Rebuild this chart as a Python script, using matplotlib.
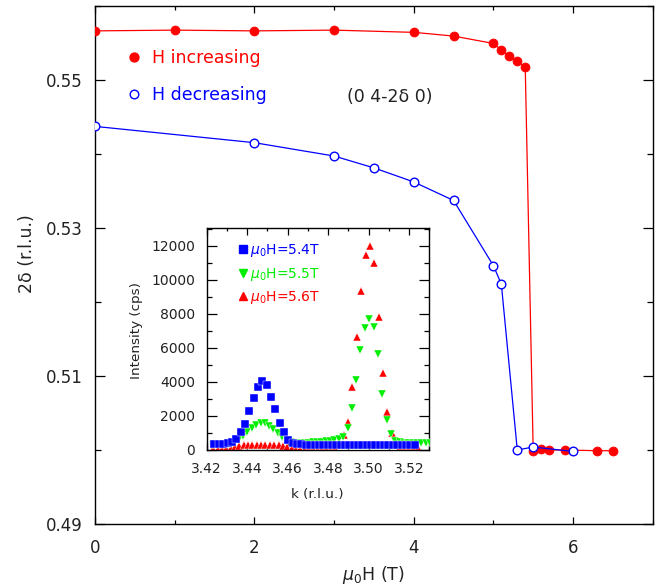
import matplotlib
matplotlib.use("Agg")
import matplotlib.pyplot as plt
from matplotlib.ticker import MultipleLocator
from matplotlib.lines import Line2D

plt.rcParams['font.family'] = ['DejaVu Sans']
plt.rcParams['mathtext.fontset'] = 'dejavusans'

TXT = '#222222'

# ---- main panel: incommensurability 2δ versus applied field ----
h_inc = [0, 1, 2, 3, 4, 4.5, 5.0, 5.1, 5.2, 5.3, 5.4, 5.5, 5.6, 5.7, 5.9, 6.3, 6.5]
d_inc = [0.5566, 0.5567, 0.5566, 0.5567, 0.5564, 0.5559, 0.5549, 0.5540, 0.5532,
         0.5525, 0.5517, 0.4998, 0.5001, 0.5000, 0.5000, 0.4999, 0.4999]

h_dec = [0, 2, 3, 3.5, 4, 4.5, 5.0, 5.1, 5.3, 5.5, 6.0]
d_dec = [0.5437, 0.5415, 0.5397, 0.5381, 0.5362, 0.5337, 0.5249, 0.5224,
         0.5000, 0.5004, 0.4998]

# ---- inset: k scans at three fields ----
k_54 = [3.4238, 3.4260, 3.4281, 3.4303, 3.4324, 3.4346, 3.4367, 3.4389, 3.4410,
        3.4432, 3.4453, 3.4475, 3.4496, 3.4518, 3.4539, 3.4561, 3.4582, 3.4604,
        3.4625, 3.4647, 3.4668, 3.4690, 3.4711, 3.4733, 3.4754, 3.4776, 3.4797,
        3.4819, 3.4840, 3.4862, 3.4883, 3.4905, 3.4926, 3.4948, 3.4969, 3.4991,
        3.5012, 3.5034, 3.5055, 3.5077, 3.5098, 3.5120, 3.5141, 3.5163, 3.5184,
        3.5206, 3.5227]
i_54 = [350, 360, 370, 390, 450, 640, 1050, 1530, 2270,
        3050, 3720, 4070, 3800, 3130, 2430, 1600, 1040, 590,
        430, 360, 330, 320, 310, 300, 310, 300, 290,
        300, 310, 300, 290, 300, 310, 300, 290, 300,
        310, 300, 290, 300, 310, 300, 290, 300, 310,
        300, 290]

k_55 = [3.4229, 3.4251, 3.4272, 3.4294, 3.4315, 3.4337, 3.4358, 3.4380, 3.4401,
        3.4423, 3.4444, 3.4466, 3.4487, 3.4509, 3.4530, 3.4552, 3.4573, 3.4595,
        3.4616, 3.4638, 3.4659, 3.4681, 3.4702, 3.4724, 3.4745, 3.4767, 3.4788,
        3.4810, 3.4831, 3.4853, 3.4874, 3.4896, 3.4917, 3.4939, 3.4960, 3.4982,
        3.5003, 3.5025, 3.5046, 3.5068, 3.5089, 3.5111, 3.5132, 3.5154, 3.5175,
        3.5197, 3.5218, 3.5240, 3.5261, 3.5283, 3.5304]
i_55 = [320, 330, 340, 350, 380, 450, 620, 850, 1080,
        1300, 1480, 1600, 1560, 1420, 1230, 1000, 780, 600,
        480, 430, 420, 430, 440, 450, 470, 490, 510,
        540, 580, 650, 783, 1310, 2485, 4130, 5874, 7184,
        7695, 7243, 5621, 3289, 1762, 940, 520, 450, 430,
        420, 410, 410, 400, 400, 390]

k_56 = [3.4232, 3.4254, 3.4275, 3.4297, 3.4318, 3.4340, 3.4361, 3.4383, 3.4404,
        3.4426, 3.4447, 3.4469, 3.4490, 3.4512, 3.4533, 3.4555, 3.4576, 3.4598,
        3.4619, 3.4641, 3.4662, 3.4684, 3.4705, 3.4727, 3.4748, 3.4770, 3.4791,
        3.4813, 3.4834, 3.4856, 3.4877, 3.4899, 3.4920, 3.4942, 3.4963, 3.4985,
        3.5006, 3.5028, 3.5049, 3.5071, 3.5092, 3.5114, 3.5135, 3.5157, 3.5178,
        3.5200, 3.5221, 3.5243]
i_56 = [60, 60, 70, 80, 100, 180, 250, 280, 300,
        310, 320, 320, 310, 300, 290, 270, 230, 180,
        120, 80, 80, 80, 80, 80, 80, 80, 80,
        80, 100, 400, 900, 1627, 3683, 6620, 9340, 11454,
        11983, 11002, 7830, 4505, 2250, 1016, 450, 150, 120,
        100, 100, 100]

RED = '#ff0000'
BLUE = '#0000ff'
GREEN = '#00ee00'

fig = plt.figure(figsize=(6.63, 5.87), dpi=100)
ax = fig.add_axes([0.1433, 0.1073, 0.8412, 0.883])

ax.plot(h_inc, d_inc, '-', color=RED, lw=0.9, marker='o', ms=6.4,
        mfc=RED, mec=RED, mew=0.6, zorder=3)
ax.plot(h_dec, d_dec, '-', color=BLUE, lw=0.9, marker='o', ms=6.2,
        mfc='white', mec=BLUE, mew=1.0, zorder=4)

ax.set_xlim(0, 7)
ax.set_ylim(0.49, 0.56)
ax.xaxis.set_minor_locator(MultipleLocator(1))
ax.yaxis.set_minor_locator(MultipleLocator(0.01))
ax.set_xticks([0, 2, 4, 6])
ax.set_yticks([0.49, 0.51, 0.53, 0.55])
ax.set_xticklabels(['0', '2', '4', '6'])
ax.set_yticklabels(['0.49', '0.51', '0.53', '0.55'])
ax.tick_params(which='both', direction='in', top=True, right=True,
               width=0.9, colors='black', labelcolor=TXT, labelsize=12)
ax.tick_params(axis='x', which='major', length=5, pad=11)
ax.tick_params(axis='x', which='minor', length=2.6)
ax.tick_params(axis='y', which='major', length=7.5, pad=9)
ax.tick_params(axis='y', which='minor', length=4)
for s in ax.spines.values():
    s.set_linewidth(1.0)

ax.set_xlabel(r'$\mu_0$H (T)', fontsize=12.5, color=TXT)
ax.xaxis.set_label_coords(0.5, -0.077)
ax.set_ylabel('2δ (r.l.u.)', fontsize=12.5, color=TXT)
ax.yaxis.set_label_coords(-0.106, 0.521)

ax.text(0.529, 0.8240, '(0 4-2δ 0)', transform=ax.transAxes,
        ha='center', va='center', fontsize=12.5, color=TXT)

handles = [Line2D([], [], ls='none', marker='o', ms=6.4, mfc=RED, mec=RED),
           Line2D([], [], ls='none', marker='o', ms=6.2, mfc='white', mec=BLUE, mew=1.0)]
leg = ax.legend(handles, ['H increasing', 'H decreasing'], loc='upper left',
                bbox_to_anchor=(0.0549, 0.916), frameon=False, fontsize=12.5,
                handlelength=1.0, handletextpad=0.5, labelspacing=1.09,
                borderpad=0, borderaxespad=0, numpoints=1)
for t, c in zip(leg.get_texts(), [RED, BLUE]):
    t.set_color(c)

# ---- inset ----
ins = fig.add_axes([0.3118, 0.2334, 0.3357, 0.3782])
mk = dict(ls='none', ms=6.4, mew=0.3, mec='white', clip_on=True)
ins.plot(k_56, i_56, marker='^', color=RED, mfc=RED, zorder=2, **mk)
ins.plot(k_55, i_55, marker='v', color=GREEN, mfc=GREEN, zorder=3, **mk)
ins.plot(k_54, i_54, marker='s', color=BLUE, mfc=BLUE, zorder=4, **mk)

ins.set_xlim(3.42, 3.53)
ins.set_ylim(0, 13040)
ins.xaxis.set_minor_locator(MultipleLocator(0.01))
ins.yaxis.set_minor_locator(MultipleLocator(1000))
ins.set_xticks([3.42, 3.44, 3.46, 3.48, 3.50, 3.52])
ins.set_xticklabels(['3.42', '3.44', '3.46', '3.48', '3.50', '3.52'])
ins.set_yticks([0, 2000, 4000, 6000, 8000, 10000, 12000])
ins.set_yticklabels(['0', '2000', '4000', '6000', '8000', '10000', '12000'])
ins.tick_params(which='both', direction='in', top=True, right=True,
                width=0.9, labelcolor=TXT, labelsize=10)
ins.tick_params(axis='x', which='major', length=5, pad=9)
ins.tick_params(axis='x', which='minor', length=2.5)
ins.tick_params(axis='y', which='major', length=7, pad=8.4)
ins.tick_params(axis='y', which='minor', length=3.6)
for s in ins.spines.values():
    s.set_linewidth(1.0)

ins.set_xlabel('k (r.l.u.)', fontsize=9.7, color=TXT)
ins.xaxis.set_label_coords(0.498, -0.171)
ins.set_ylabel('Intensity (cps)', fontsize=9.7, color=TXT)
ins.yaxis.set_label_coords(-0.286, 0.54)

ih = [Line2D([], [], ls='none', marker='s', ms=6.0, mfc=BLUE, mec=BLUE),
      Line2D([], [], ls='none', marker='v', ms=6.0, mfc=GREEN, mec=GREEN),
      Line2D([], [], ls='none', marker='^', ms=6.0, mfc=RED, mec=RED)]
il = ins.legend(ih, [r'$\mu_0$H=5.4T', r'$\mu_0$H=5.5T', r'$\mu_0$H=5.6T'],
                loc='upper left', bbox_to_anchor=(0.1456, 0.937), frameon=False,
                fontsize=10, handlelength=0.6, handletextpad=0.18,
                labelspacing=0.48, borderpad=0, borderaxespad=0, numpoints=1)
for t, c in zip(il.get_texts(), [BLUE, GREEN, RED]):
    t.set_color(c)

fig.savefig('out.png', dpi=100)
